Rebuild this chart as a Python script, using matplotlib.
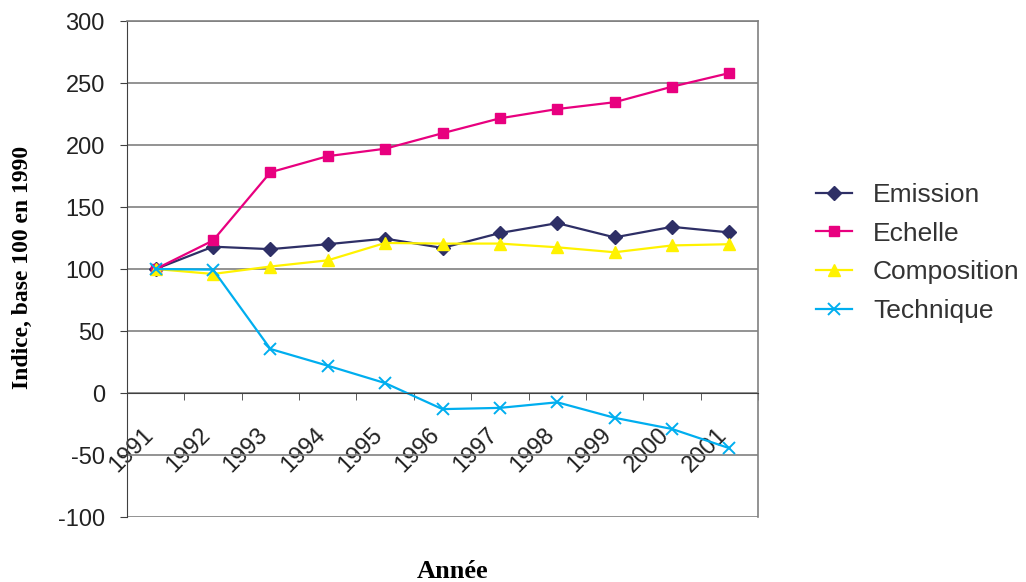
import matplotlib
matplotlib.use("Agg")
import matplotlib.pyplot as plt
import matplotlib.transforms as mtransforms
from matplotlib.ticker import MultipleLocator, FixedLocator

years = ["1991", "1992", "1993", "1994", "1995", "1996", "1997", "1998", "1999", "2000", "2001"]
emission = [100, 118, 116, 120, 124.5, 117, 129, 137, 125.5, 134, 129.5]
echelle = [100, 123, 178, 191, 197, 209.5, 221.5, 229, 234.5, 247, 258]
composition = [100, 96, 102, 107, 121, 120.5, 120.5, 117.5, 113.5, 119, 120]
technique = [100, 99.5, 35.5, 22, 8, -13, -12, -7.5, -20, -29, -44.5]

plt.rcParams['font.family'] = ['Liberation Sans', 'DejaVu Sans']
plt.rcParams['axes.unicode_minus'] = False

fig = plt.figure(figsize=(10.26, 5.82), dpi=100)
ax = fig.add_axes([127/1026, 1 - 517/582, (758 - 127)/1026, (517 - 21)/582])

x = list(range(len(years)))
ax.plot(x, emission, color='#2e2f66', lw=1.6, marker='D', ms=7.5, label='Emission')
ax.plot(x, echelle, color='#e8007f', lw=1.6, marker='s', ms=7.5, label='Echelle')
ax.plot(x, composition, color='#fff200', lw=1.6, marker='^', ms=9, label='Composition')
ax.plot(x, technique, color='#00aeef', lw=1.6, marker='x', ms=9, mew=1.4, label='Technique')

ax.set_xlim(-0.5, len(years) - 0.5)
ax.set_ylim(-100, 300)
ax.yaxis.set_major_locator(MultipleLocator(50))
ax.yaxis.grid(True, color='#808080', lw=1.2)
ax.set_axisbelow(True)

for s in ['top', 'right']:
    ax.spines[s].set_color('#808080')
    ax.spines[s].set_linewidth(1.2)
ax.spines['left'].set_color('#404040')
ax.spines['bottom'].set_position(('data', 0))
ax.spines['bottom'].set_color('#404040')

ax.set_xticks(x)
ax.set_xticklabels(years, rotation=45, ha='right', va='center', rotation_mode='anchor')
ax.tick_params(axis='x', which='major', length=0, pad=28, labelsize=17, labelcolor='#222222')
shift = mtransforms.ScaledTranslation(-6/100, 0, fig.dpi_scale_trans)
for lbl in ax.get_xticklabels():
    lbl.set_transform(lbl.get_transform() + shift)
ax.xaxis.set_minor_locator(FixedLocator([i + 0.5 for i in range(len(years))]))
ax.tick_params(axis='x', which='minor', length=5, direction='out', color='#404040')
ax.tick_params(axis='y', length=5, direction='out', color='#404040', labelsize=17,
               labelcolor='#222222', pad=11)

fig.text(22/1026, 1 - 267/582, 'Indice, base 100 en 1990', rotation=90, ha='center', va='center',
         family='Liberation Serif', fontweight='bold', fontsize=17)
fig.text(453/1026, 1 - 572/582, 'Année', ha='center', va='center',
         family='Liberation Serif', fontweight='bold', fontsize=19)

ax.legend(loc='center left', bbox_to_anchor=(816/1026, 1 - 253/582), bbox_transform=fig.transFigure,
          frameon=False, fontsize=19, labelcolor='#333333', handlelength=1.36, handletextpad=0.8,
          labelspacing=0.56, borderpad=0, borderaxespad=0)

fig.savefig('out.png', dpi=100)
